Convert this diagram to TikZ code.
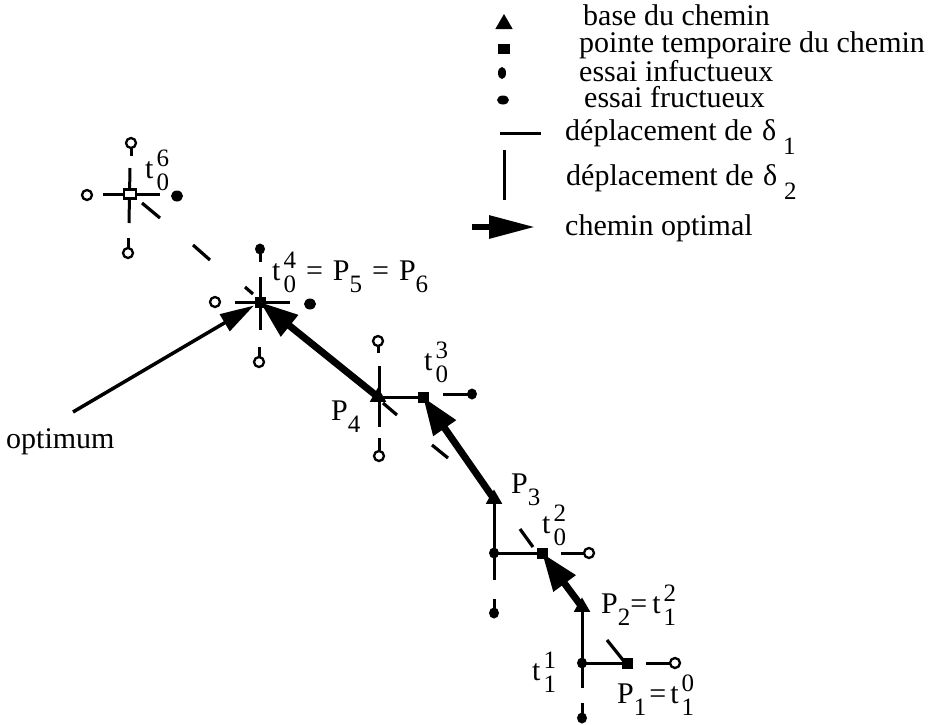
\documentclass[tikz,border=0pt]{standalone}
\usepackage{fontspec}
\setmainfont{Liberation Serif}
\usetikzlibrary{%
	arrows.meta,%
	shapes.geometric,%
	positioning,%
}
\tikzset{
	>=Triangle,%
	basept/.style={%
			regular polygon,%
			regular polygon sides=3,%
			fill=black,%
			inner sep=0,%
			minimum size=19pt},%
	tippt/.style={%
			rectangle,%
			fill=black,%
			inner sep=0,%
			minimum size=11pt},%
	opentip/.style={%
			rectangle,%
			draw,%
			line width=2.5pt,%
			fill=white,%
			inner sep=0,%
			minimum width=12pt,%
			minimum height=9pt},%
	failpt/.style={%
			circle,%
			draw,%
			line width=2.3pt,%
			fill=white,%
			inner sep=0,%
			minimum size=10pt},%
	hitpt/.style={%
			ellipse,%
			fill=black,%
			inner sep=0,%
			minimum width=10pt,%
			minimum height=11pt},%
	dep/.style={line width=3pt},%
	slash/.style={line width=3.2pt},%
	optpath/.style={line width=7pt, -{Triangle[length=38pt,width=26pt]}},%
	pointer/.style={line width=3.5pt, -{Triangle[length=34pt,width=19pt]}},%
	lbl/.style={anchor=base west, inner sep=0, font={\fontsize{30}{30}\selectfont}},%
}
\newcommand{\idx}[1]{{\fontsize{25}{25}\selectfont #1}}
\newcommand{\lo}[1]{\raisebox{-12pt}{\idx{#1}}}
\newcommand{\hilo}[2]{\kern3pt\rlap{\lo{#1}}\raisebox{12pt}{\idx{#2}}}
\newcommand{\eq}{\kern10pt=\kern10pt}

\begin{document}
\begin{tikzpicture}[x=1pt, y=-1pt]
	\useasboundingbox (0,0) rectangle (935,724);

	% legende
	\node[basept, minimum size=20pt] (kbase) at (504,24) {};
	\node[tippt, minimum width=12pt, minimum height=10pt] (ktip) at (504,49) {};
	\node[hitpt, minimum width=8pt, minimum height=12pt] (kfail) at (502,73) {};
	\node[hitpt, minimum width=12pt, minimum height=9pt] (khit) at (503,100) {};
	\coordinate (kh1) at (500,133);
	\coordinate (kh2) at (541,133);
	\coordinate (kv1) at (504,150);
	\coordinate (kv2) at (504,200);
	\coordinate (ka1) at (472,227);
	\coordinate (ka2) at (535,227);
	\draw[dep] (kh1) -- (kh2);
	\draw[dep] (kv1) -- (kv2);
	\draw[line width=6pt, -{Triangle[length=46pt,width=22pt]}] (ka1) -- (ka2);

	\node[lbl] (tbase) at (583,25) {base du chemin};
	\node[lbl] (ttip) at (579,52) {pointe temporaire du chemin};
	\node[lbl] (tfail) at (579,81) {essai infuctueux};
	\node[lbl] (thit) at (584,107) {essai fructueux};
	\node[lbl] (tdep1) at (565,140) {déplacement de \kern2pt δ\kern7pt\raisebox{-14pt}{\idx{1}}};
	\node[lbl] (tdep2) at (566,185) {déplacement de \kern2pt δ\kern7pt\raisebox{-14pt}{\idx{2}}};
	\node[lbl] (topt) at (565,235) {chemin optimal};

	% points du chemin
	\coordinate (P1) at (627,663);
	\coordinate (t11) at (582,663);
	\coordinate (P2) at (582,607);
	\coordinate (d3) at (494,553);
	\coordinate (t02) at (542,553);
	\coordinate (P3) at (494,499);
	\coordinate (P4) at (378,397);
	\coordinate (t03) at (423,397);
	\coordinate (t04) at (260,302);
	\coordinate (t06) at (130,194);
	\coordinate (o1) at (73,412);

	\coordinate (f1) at (675,663);
	\coordinate (s1) at (582,718);
	\coordinate (f3) at (589,553);
	\coordinate (s3) at (494,613);
	\coordinate (f4t) at (378,341);
	\coordinate (f4b) at (379,456);
	\coordinate (s4) at (472,394);
	\coordinate (s5t) at (260,249);
	\coordinate (f5b) at (259,362);
	\coordinate (f5l) at (215,302);
	\coordinate (s5r) at (310,304);
	\coordinate (f6t) at (131,143);
	\coordinate (f6b) at (128,253);
	\coordinate (f6l) at (87,195);
	\coordinate (s6r) at (177,196);

	% deplacements
	\draw[dep] (t11) -- (P1);
	\draw[dep] (t11) -- (P2);
	\draw[dep] (t11) -- ++(0,25);
	\draw[dep] (s1) -- ++(0,-15);
	\draw[dep] (f1) -- ++(-29,0);
	\draw[slash] ([shift={(-20,-23)}]P1) -- ++(16,20);

	\draw[dep] (P3) -- (d3);
	\draw[dep] (d3) -- (t02);
	\draw[dep] (d3) -- ++(0,27);
	\draw[dep] (s3) -- ++(0,-14);
	\draw[dep] (f3) -- ++(-28,0);
	\draw[slash] ([shift={(-22,-24)}]t02) -- ++(13,18);

	\draw[dep] (P4) -- (t03);
	\draw[dep] ([shift={(1,-31)}]P4) -- ([shift={(1,30)}]P4);
	\draw[dep] (f4t) -- ++(0,12);
	\draw[dep] (f4b) -- ++(0,-18);
	\draw[dep] (s4) -- ++(-29,0);
	\draw[slash] ([shift={(5,6)}]P4) -- ++(14,12);
	\draw[slash] (432,445) -- (448,458);

	\draw[dep] ([shift={(-25,0)}]t04) -- ([shift={(30,0)}]t04);
	\draw[dep] ([shift={(0,-25)}]t04) -- ([shift={(0,28)}]t04);
	\draw[dep] (s5t) -- ++(0,13);
	\draw[dep] (f5b) -- ++(0,-15);
	\draw[slash] ([shift={(-15,-15)}]t04) -- ++(8,7);
	\draw[slash] (193,245) -- (210,260);

	\draw[dep] ([shift={(-27,0)}]t06) -- ([shift={(30,0)}]t06);
	\draw[dep] ([shift={(0,-26)}]t06) -- ([shift={(-1,29)}]t06);
	\draw[dep] (f6t) -- ++(0,13);
	\draw[dep] (f6b) -- ++(0,-15);
	\draw[slash] ([shift={(12,9)}]t06) -- ++(18,15);

	% essais
	\node[tippt] (mP1) at (P1) {};
	\node[hitpt] (mt11) at (t11) {};
	\node[basept] (mP2) at (P2) {};
	\node[failpt] (mf1) at (f1) {};
	\node[hitpt] (ms1) at (s1) {};
	\node[hitpt] (md3) at (d3) {};
	\node[tippt] (mt02) at (t02) {};
	\node[basept] (mP3) at (P3) {};
	\node[failpt] (mf3) at (f3) {};
	\node[hitpt] (ms3) at (s3) {};
	\node[basept] (mP4) at (P4) {};
	\node[tippt] (mt03) at (t03) {};
	\node[failpt] (mf4t) at (f4t) {};
	\node[failpt] (mf4b) at (f4b) {};
	\node[hitpt] (ms4) at (s4) {};
	\node[tippt] (mt04) at (t04) {};
	\node[hitpt] (ms5t) at (s5t) {};
	\node[failpt] (mf5b) at (f5b) {};
	\node[failpt] (mf5l) at (f5l) {};
	\node[hitpt, minimum width=12pt] (ms5r) at (s5r) {};
	\node[opentip] (mt06) at (t06) {};
	\node[failpt] (mf6t) at (f6t) {};
	\node[failpt] (mf6b) at (f6b) {};
	\node[failpt] (mf6l) at (f6l) {};
	\node[hitpt, minimum width=12pt] (ms6r) at (s6r) {};

	% chemin optimal
	\draw[optpath] (P2) -- (t02);
	\draw[optpath] (P3) -- (t03);
	\draw[optpath] (P4) -- (t04);
	\draw[pointer, shorten >=7pt] (o1) -- (t04);

	% etiquettes
	\node[lbl] (l06) at (145,178) {t\hilo{0}{6}};
	\node[lbl] (l04) at (272,280) {t\hilo{0}{4}\eq P\lo{5}\eq P\lo{6}};
	\node[lbl] (l4) at (331,420) {P\lo{4}};
	\node[lbl] (l03) at (424,370) {t\hilo{0}{3}};
	\node[lbl] (l3) at (511,493) {P\lo{3}};
	\node[lbl] (l02) at (542,533) {t\hilo{0}{2}};
	\node[lbl] (l2) at (601,613) {P\lo{2}=\kern5pt t\hilo{1}{2}};
	\node[lbl] (l11) at (532,680) {t\hilo{1}{1}};
	\node[lbl] (l1) at (617,703) {P\lo{1}\kern3pt=\kern4pt t\hilo{1}{0}};
	\node[lbl] (lopt) at (6,448) {optimum};
\end{tikzpicture}
\end{document}
